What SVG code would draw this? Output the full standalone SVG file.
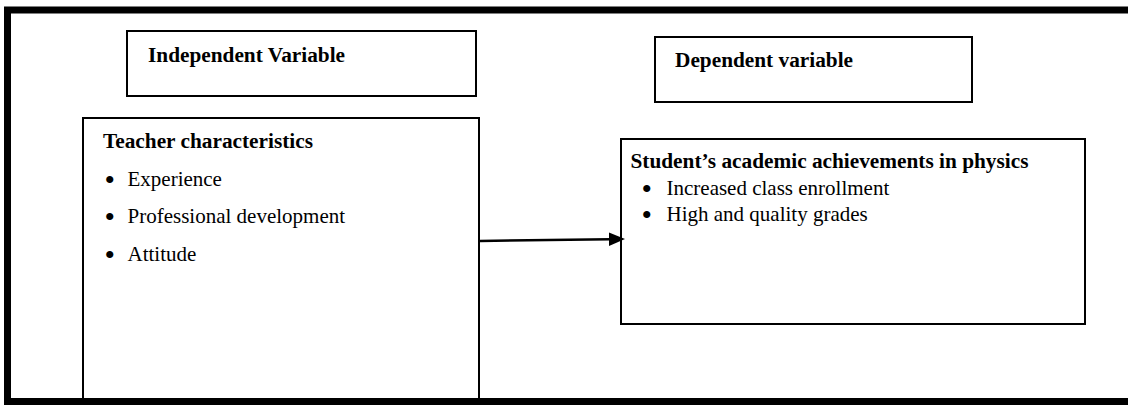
<svg xmlns="http://www.w3.org/2000/svg" width="1128" height="405" viewBox="0 0 1128 405">
<style>
.box{fill:#fff;stroke:#000;stroke-width:2}
.b{font-family:"Liberation Serif","Times New Roman",serif;font-weight:bold;font-size:21.3px;fill:#000}
.r{font-family:"Liberation Serif","Times New Roman",serif;font-size:21px;fill:#000}
.bl{font-family:"Liberation Serif","Times New Roman",serif;font-size:30px;fill:#000}
.frame{fill:none;stroke:#000;stroke-width:7}
</style>
<rect width="1128" height="405" fill="#fff"/>
<g id="frame">
<path class="frame" d="M1128,10 L7.5,10 L7.5,401.5 L1128,401.5"/>
</g>
<g id="independent">
<rect class="box" x="127" y="31" width="349" height="65"/>
<text class="b" x="148" y="62">Independent Variable</text>
</g>
<g id="dependent">
<rect class="box" x="655" y="37" width="317" height="65"/>
<text class="b" x="675" y="67">Dependent variable</text>
</g>
<g id="teacher">
<path class="box" d="M83,398 L83,118 L479,118 L479,398"/>
<text class="b" x="103" y="148">Teacher characteristics</text>
<text class="bl" x="104.5" y="190">•</text><text class="r" x="127.5" y="186">Experience</text>
<text class="bl" x="104.5" y="227">•</text><text class="r" x="127.5" y="223">Professional development</text>
<text class="bl" x="104.5" y="265">•</text><text class="r" x="127.5" y="261">Attitude</text>
</g>
<g id="student">
<rect class="box" x="621" y="139" width="464" height="185"/>
<text class="b" x="630.5" y="168">Student’s academic achievements in physics</text>
<text class="bl" x="641.5" y="199">•</text><text class="r" x="666.5" y="195">Increased class enrollment</text>
<text class="bl" x="641.5" y="225">•</text><text class="r" x="666.5" y="221">High and quality grades</text>
</g>
<g id="connectors">
<line x1="480" y1="241" x2="610" y2="239.2" stroke="#000" stroke-width="2.5"/>
<path d="M609,232.5 L625,239 L609,246 Z" fill="#000"/>
</g>
</svg>
